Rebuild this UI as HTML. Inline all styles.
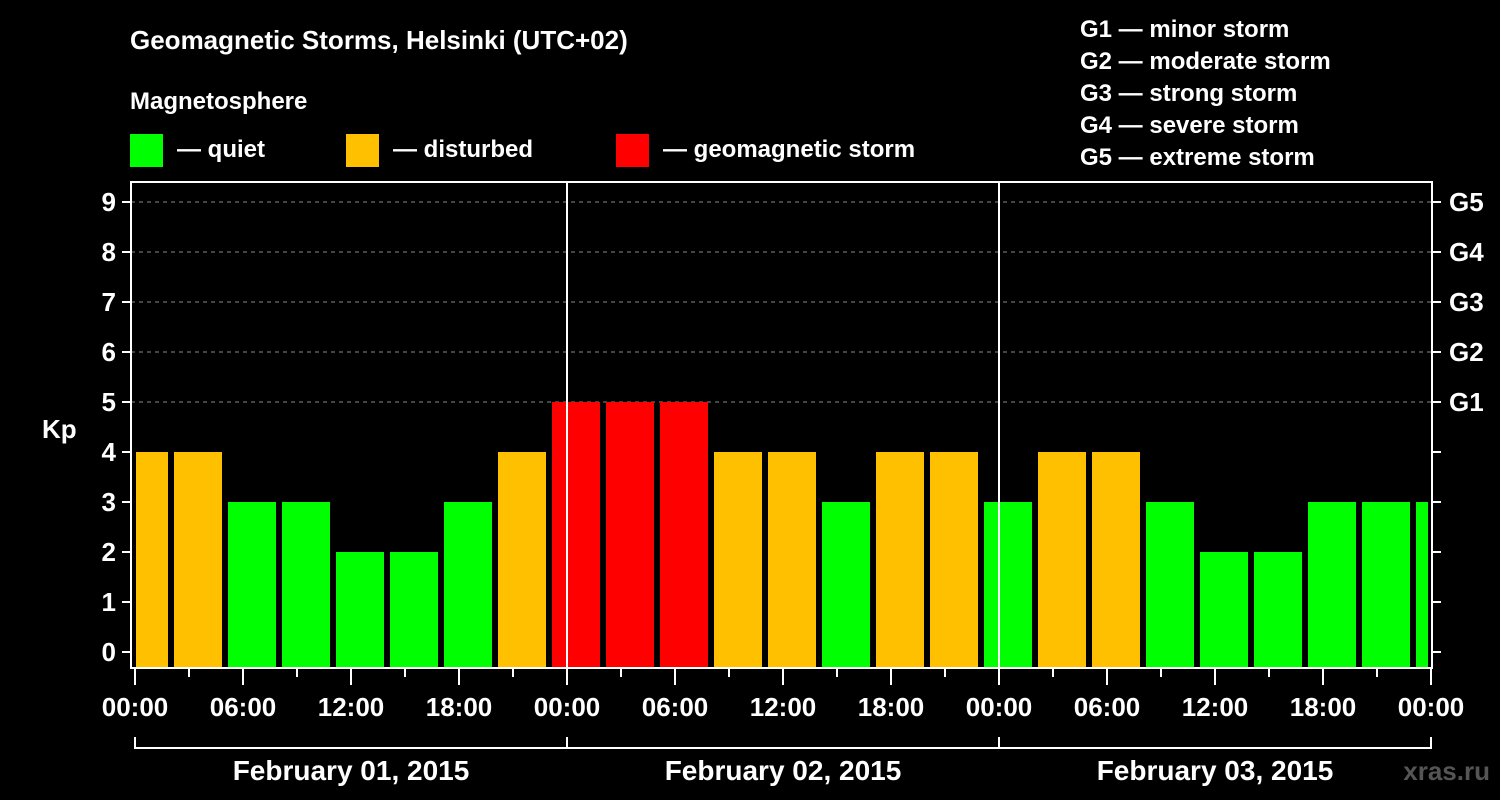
<!DOCTYPE html>
<html><head><meta charset="utf-8"><style>
html,body{margin:0;padding:0;background:#000;width:1500px;height:800px;overflow:hidden}
svg text{font-family:"Liberation Sans",sans-serif;font-weight:bold;fill:#fff}
</style></head><body>
<svg id="c" width="1500" height="800">
<text x="130" y="49" font-size="26">Geomagnetic Storms, Helsinki (UTC+02)</text>
<text x="130" y="109" font-size="24">Magnetosphere</text>
<g><rect x="130" y="134" width="33" height="33" fill="#00ff00"/><text x="177" y="157" font-size="24">— quiet</text></g>
<g><rect x="346" y="134" width="33" height="33" fill="#ffc000"/><text x="393" y="157" font-size="24">— disturbed</text></g>
<g><rect x="616" y="134" width="33" height="33" fill="#ff0000"/><text x="663" y="157" font-size="24">— geomagnetic storm</text></g>
<g font-size="24">
<text x="1080" y="37">G1 — minor storm</text>
<text x="1080" y="69">G2 — moderate storm</text>
<text x="1080" y="101">G3 — strong storm</text>
<text x="1080" y="133">G4 — severe storm</text>
<text x="1080" y="165">G5 — extreme storm</text>
</g>
<text x="42" y="438" font-size="26">Kp</text>
<text x="1490" y="780" font-size="26" text-anchor="end" fill="#555" style="fill:#555">xras.ru</text>
<defs><clipPath id="pc"><rect x="136" y="182" width="1292" height="486"/></clipPath></defs>
<g id="grid"></g><g id="bars" clip-path="url(#pc)"></g><g id="axes"></g>
</svg>
<script>
const kpValues=[4,4,3,3,2,2,3,4, 5,5,5,4,4,3,4,4, 3,4,4,3,2,2,3,3,3];
const yTicks=[0,1,2,3,4,5,6,7,8,9];
const gLabels=["G1","G2","G3","G4","G5"];
const gLevels=[5,6,7,8,9];
const xTickLabels=["00:00","06:00","12:00","18:00","00:00","06:00","12:00","18:00","00:00","06:00","12:00","18:00","00:00"];
const dayLabels=["February 01, 2015","February 02, 2015","February 03, 2015"];
const NS="http://www.w3.org/2000/svg";
const X=h=>135+18*h, Y=v=>652-50*v;
function mk(tag,attrs,parent,txt){const e=document.createElementNS(NS,tag);for(const k in attrs)e.setAttribute(k,attrs[k]);if(txt!==undefined)e.textContent=txt;document.getElementById(parent).appendChild(e);return e;}
gLevels.forEach(v=>{const l=mk('line',{x1:131,x2:1432,y1:Y(v),y2:Y(v),stroke:'#888','stroke-dasharray':'4,4','stroke-width':1},'grid');

});
kpValues.forEach((v,i)=>{const col=v>=5?'#ff0000':(v>=4?'#ffc000':'#00ff00');
const r=mk('rect',{x:X(3*i)-15,y:Y(v),width:48,height:668-Y(v),fill:col},'bars');

});
const f=mk('rect',{x:131,y:182,width:1301,height:486,fill:'none',stroke:'#fff','stroke-width':2},'axes');


[1,2].forEach(d=>{const l=mk('line',{x1:X(24*d),x2:X(24*d),y1:182,y2:668,stroke:'#fff','stroke-width':2},'axes');

});
yTicks.forEach(v=>{mk('line',{x1:122,x2:131,y1:Y(v),y2:Y(v),stroke:'#fff','stroke-width':2},'axes');
mk('line',{x1:1432,x2:1441,y1:Y(v),y2:Y(v),stroke:'#fff','stroke-width':2},'axes');
const t=mk('text',{x:116,y:Y(v)+9,'font-size':26,'text-anchor':'end'},'axes',String(v));

});
gLevels.forEach((v,i)=>{const t=mk('text',{x:1449,y:Y(v)+9,'font-size':26},'axes',gLabels[i]);

});
for(let h=0;h<=72;h+=3){const maj=h%6==0;mk('line',{x1:X(h),x2:X(h),y1:669,y2:maj?685:677,stroke:'#fff','stroke-width':2},'axes');}
xTickLabels.forEach((s,i)=>{const t=mk('text',{x:X(6*i),y:716,'font-size':26,'text-anchor':'middle'},'axes',s);

});
mk('path',{d:`M${X(0)} 737V748H${X(72)}V737M${X(24)} 737V748M${X(48)} 737V748`,stroke:'#fff','stroke-width':2,fill:'none'},'axes');
dayLabels.forEach((s,i)=>{const t=mk('text',{x:X(24*i+12),y:780,'font-size':28,'text-anchor':'middle'},'axes',s);

});
</script>
</body></html>
